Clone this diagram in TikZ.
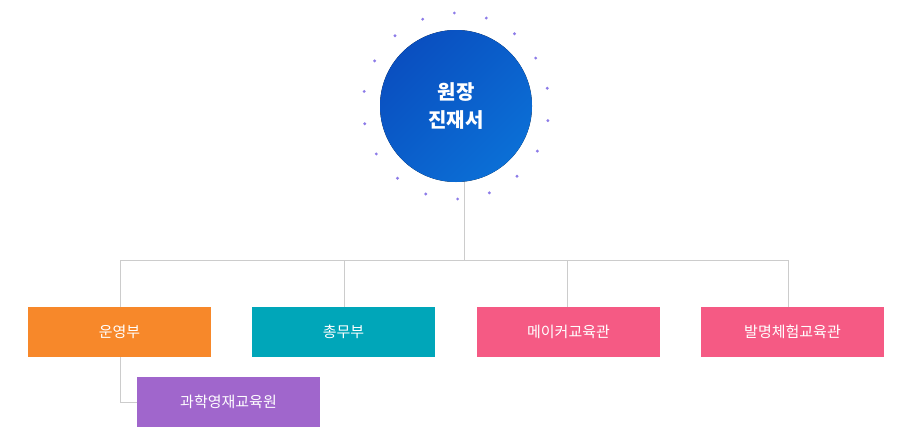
\documentclass[tikz,border=0pt]{standalone}
\usepackage{fontspec}
\usetikzlibrary{calc}
\setmainfont{Noto Sans CJK KR}
\definecolor{cor}{HTML}{F7882A}
\definecolor{cte}{HTML}{00A6B9}
\definecolor{cpk}{HTML}{F55A84}
\definecolor{cpu}{HTML}{A066CC}
\definecolor{cb1}{HTML}{0B6FD6}
\definecolor{cb2}{HTML}{0A4FC0}
\definecolor{cdot}{HTML}{8C7BE8}
\definecolor{cln}{HTML}{CCCCCC}
\begin{document}
\begin{tikzpicture}[x=1pt,y=-1pt,
 box/.style={minimum width=183pt,minimum height=50pt,inner sep=0,text=white,font=\fontsize{15}{18}\selectfont},
 ln/.style={draw=cln,line width=0.8pt}]
\useasboundingbox (0,0) rectangle (910,445);
\fill[left color=cb2,right color=cb1,shading angle=45] (456,106) circle (76);
\node[text=white,font=\bfseries\fontsize{20}{28}\selectfont,align=center] (top) at (456,106) {원장\\진재서};
\coordinate (c) at (456,106);
\foreach \a in {0,20,...,340} \fill[cdot] ($(c)+(89+\a:93)$) circle (1.6);
\node[box,fill=cor] (a) at (119.5,332) {운영부};
\node[box,fill=cte] (b) at (343.5,332) {총무부};
\node[box,fill=cpk] (d) at (568.5,332) {메이커교육관};
\node[box,fill=cpk] (e) at (792.5,332) {발명체험교육관};
\node[box,fill=cpu] (f) at (228.5,402) {과학영재교육원};
\coordinate (t) at (464,182);
\draw[ln] (t) -- (464,260);
\draw[ln] (120,307) -- (120,260) -- (788,260) -- (788,307);
\draw[ln] (344,260) -- (344,307);
\draw[ln] (567,260) -- (567,307);
\draw[ln] (120,357) |- (f.west);
\end{tikzpicture}
\end{document}
